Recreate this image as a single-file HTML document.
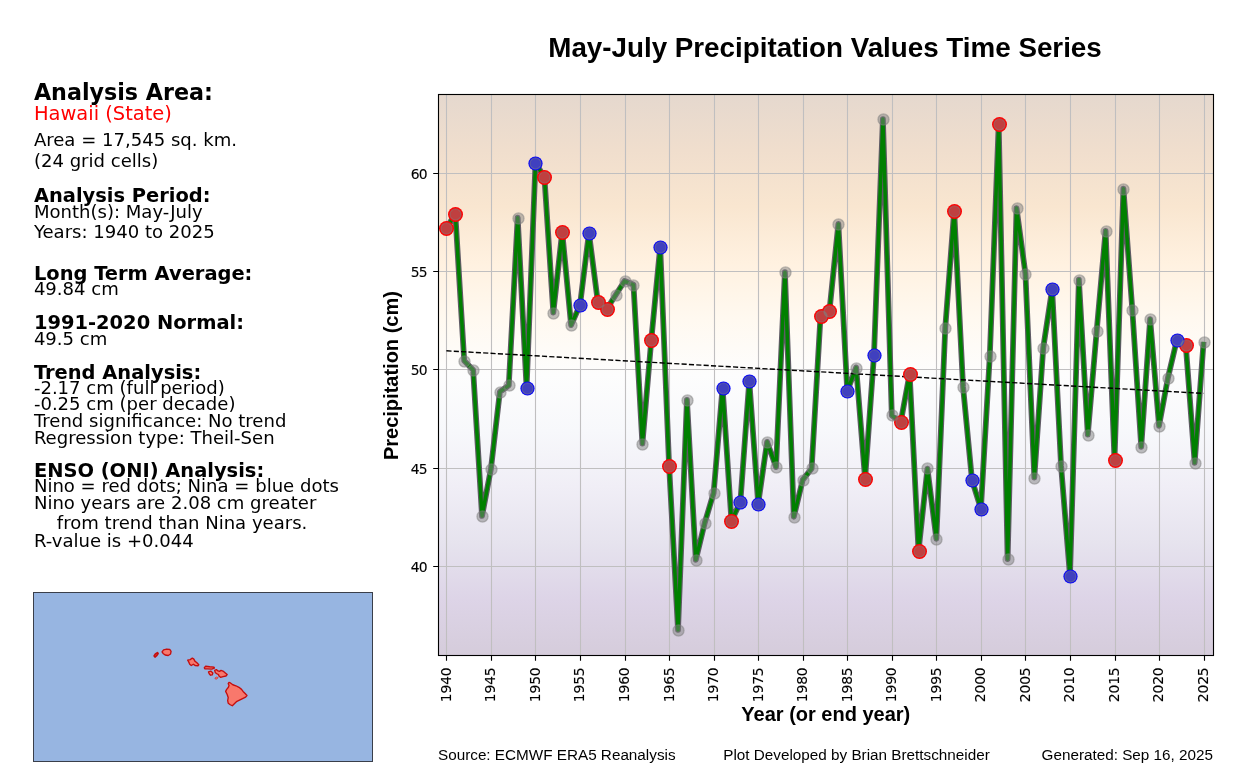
<!DOCTYPE html><html><head><meta charset="utf-8"><title>May-July Precipitation Values Time Series</title>
<style>html,body{margin:0;padding:0;background:#fff;overflow:hidden}svg{display:block}.dj{font-family:"DejaVu Sans","Liberation Sans",sans-serif}.djb{font-family:"DejaVu Sans","Liberation Sans",sans-serif;font-weight:bold}.ar{font-family:"Liberation Sans",Arial,sans-serif}.arb{font-family:"Liberation Sans",Arial,sans-serif;font-weight:bold}text{fill:#000}</style></head><body>
<svg width="1250" height="780" viewBox="0 0 1250 780">
<defs><linearGradient id="bg" x1="0" y1="0" x2="0" y2="1"><stop offset="0%" stop-color="#e5d8ce"/><stop offset="10%" stop-color="#f0decd"/><stop offset="20%" stop-color="#f9e6d0"/><stop offset="30%" stop-color="#fff1e0"/><stop offset="40%" stop-color="#fff9f0"/><stop offset="50%" stop-color="#fdfdfd"/><stop offset="60%" stop-color="#f7f8fb"/><stop offset="70%" stop-color="#f0eef6"/><stop offset="80%" stop-color="#e6e3ee"/><stop offset="90%" stop-color="#ddd4e7"/><stop offset="100%" stop-color="#d5ccdb"/></linearGradient>
<clipPath id="ax"><rect x="438.5" y="94.5" width="775" height="561"/></clipPath></defs>
<rect width="1250" height="780" fill="#fff"/>
<text class="arb" x="825" y="57" font-size="27.78" text-anchor="middle">May-July Precipitation Values Time Series</text>
<text class="djb" x="33.9" y="99.6" font-size="22.22" style="fill:#000">Analysis Area:</text>
<text class="dj" x="33.9" y="119.8" font-size="19.44" style="fill:#f00">Hawaii (State)</text>
<text class="dj" x="33.9" y="146" font-size="18.06" style="fill:#000">Area = 17,545 sq. km.</text>
<text class="dj" x="33.9" y="167.1" font-size="18.06" style="fill:#000">(24 grid cells)</text>
<text class="djb" x="33.9" y="202.15" font-size="19.44" style="fill:#000">Analysis Period:</text>
<text class="dj" x="33.9" y="217.9" font-size="18.06" style="fill:#000">Month(s): May-July</text>
<text class="dj" x="33.9" y="238.3" font-size="18.06" style="fill:#000">Years: 1940 to 2025</text>
<text class="djb" x="33.9" y="280" font-size="19.44" style="fill:#000">Long Term Average:</text>
<text class="dj" x="33.9" y="295.2" font-size="18.06" style="fill:#000">49.84 cm</text>
<text class="djb" x="33.9" y="328.6" font-size="19.44" style="fill:#000">1991-2020 Normal:</text>
<text class="dj" x="33.9" y="345.4" font-size="18.06" style="fill:#000">49.5 cm</text>
<text class="djb" x="33.9" y="379.4" font-size="19.44" style="fill:#000">Trend Analysis:</text>
<text class="dj" x="33.9" y="394.1" font-size="18.06" style="fill:#000">-2.17 cm (full period)</text>
<text class="dj" x="33.9" y="410.2" font-size="18.06" style="fill:#000">-0.25 cm (per decade)</text>
<text class="dj" x="33.9" y="427" font-size="18.06" style="fill:#000">Trend significance: No trend</text>
<text class="dj" x="33.9" y="443.5" font-size="18.06" style="fill:#000">Regression type: Theil-Sen</text>
<text class="djb" x="33.9" y="477.4" font-size="19.44" style="fill:#000">ENSO (ONI) Analysis:</text>
<text class="dj" x="33.9" y="492.1" font-size="18.06" style="fill:#000">Nino = red dots; Nina = blue dots</text>
<text class="dj" x="33.9" y="509.3" font-size="18.06" style="fill:#000">Nino years are 2.08 cm greater</text>
<text class="dj" x="33.9" y="528.5" font-size="18.06" style="fill:#000">    from trend than Nina years.</text>
<text class="dj" x="33.9" y="547.3" font-size="18.06" style="fill:#000">R-value is +0.044</text>
<g id="map"><rect x="33.5" y="592.5" width="339" height="169" fill="#97b5e1" stroke="#3a3f4a" stroke-width="1"/>
<path d="M229.03 682.38 L230.77 683.21 L232.82 684.74 L235.90 685.77 L238.97 687.31 L241.54 689.36 L243.08 691.41 L245.13 693.46 L246.97 695.51 L245.64 697.05 L242.56 698.59 L239.49 700.13 L236.41 701.67 L234.36 703.72 L232.31 705.77 L230.26 704.74 L228.21 703.21 L227.69 700.64 L228.21 697.56 L227.18 694.49 L225.64 691.41 L226.67 689.36 L228.41 687.31 L229.03 685.26 L228.21 683.72Z" fill="#f8786c" stroke="#c40e0e" stroke-width="1.35" stroke-linejoin="round"/>
<path d="M214.67 670.38 L216.41 669.56 L217.95 670.90 L219.49 671.41 L221.03 670.38 L223.59 671.41 L225.64 673.15 L227.18 674.49 L225.95 676.03 L223.08 676.54 L220.51 677.36 L218.97 676.03 L218.46 674.49 L216.92 673.77 L215.38 672.74Z" fill="#f8786c" stroke="#c40e0e" stroke-width="1.35" stroke-linejoin="round"/>
<path d="M187.69 660.13 L190.26 659.62 L192.31 658.08 L193.85 659.10 L194.87 661.15 L196.92 662.69 L198.77 664.74 L197.95 665.77 L195.38 665.56 L193.33 664.23 L191.28 665.46 L189.74 664.23 L188.72 661.87Z" fill="#f8786c" stroke="#c40e0e" stroke-width="1.35" stroke-linejoin="round"/>
<path d="M162.05 651.92 L163.59 649.87 L166.67 649.05 L169.74 649.36 L171.08 651.41 L170.56 653.97 L168.21 655.51 L165.13 655.00 L163.08 653.46Z" fill="#f8786c" stroke="#c40e0e" stroke-width="1.35" stroke-linejoin="round"/>
<path d="M154.05 656.03 L155.38 653.97 L157.44 652.64 L158.15 653.46 L156.92 655.31 L155.18 657.05Z" fill="#f8786c" stroke="#c40e0e" stroke-width="1.6" stroke-linejoin="round"/>
<path d="M204.31 667.62 L205.64 666.28 L209.74 666.79 L214.05 667.10 L214.36 668.03 L211.79 669.05 L207.69 668.85 L204.82 668.85Z" fill="#f8786c" stroke="#c40e0e" stroke-width="1.35" stroke-linejoin="round"/>
<path d="M208.51 671.92 L210.77 671.10 L212.82 672.95 L212.31 674.79 L210.56 675.21 L209.23 673.77Z" fill="#f8786c" stroke="#c40e0e" stroke-width="1.35" stroke-linejoin="round"/>
<path d="M214.87 678.08 L216.41 677.05 L218.15 677.56 L216.92 679.10 L215.38 679.10Z" fill="#f8786c" stroke="#c40e0e" stroke-width="0.5" stroke-linejoin="round"/>
</g>
<rect x="438.5" y="94.5" width="775" height="561" fill="url(#bg)"/>
<path d="M446.50 94.5 V655.5 M491.50 94.5 V655.5 M535.50 94.5 V655.5 M580.50 94.5 V655.5 M625.50 94.5 V655.5 M669.50 94.5 V655.5 M714.50 94.5 V655.5 M758.50 94.5 V655.5 M803.50 94.5 V655.5 M847.50 94.5 V655.5 M892.50 94.5 V655.5 M936.50 94.5 V655.5 M981.50 94.5 V655.5 M1025.50 94.5 V655.5 M1070.50 94.5 V655.5 M1115.50 94.5 V655.5 M1159.50 94.5 V655.5 M1204.50 94.5 V655.5 M438.5 566.50 H1213.5 M438.5 468.50 H1213.5 M438.5 369.50 H1213.5 M438.5 271.50 H1213.5 M438.5 173.50 H1213.5" stroke="#c0bfc0" stroke-width="1.11" fill="none"/>
<g clip-path="url(#ax)">
<polyline points="446.41,228.05 455.32,213.95 464.23,360.85 473.13,370.05 482.04,515.95 490.95,468.75 499.86,391.85 508.77,385.45 517.67,217.75 526.58,387.75 535.49,163.15 544.40,176.95 553.31,312.65 562.21,231.85 571.12,325.15 580.03,304.95 588.94,232.85 597.85,302.15 606.75,309.05 615.66,294.95 624.57,281.05 633.48,284.75 642.39,443.65 651.29,340.05 660.20,246.75 669.11,465.75 678.02,629.85 686.93,399.85 695.83,559.85 704.74,522.85 713.65,492.85 722.56,387.75 731.47,521.05 740.37,501.85 749.28,380.95 758.19,503.65 767.10,441.85 776.01,467.05 784.91,272.15 793.82,516.75 802.73,479.85 811.64,468.55 820.55,315.75 829.45,310.85 838.36,223.95 847.27,391.05 856.18,367.55 865.09,479.05 873.99,354.95 882.90,119.05 891.81,415.45 900.72,422.15 909.63,373.65 918.53,551.05 927.44,468.55 936.35,538.75 945.26,327.75 954.17,210.85 963.07,386.95 971.98,480.05 980.89,508.75 989.80,355.75 998.71,123.95 1007.61,559.05 1016.52,208.05 1025.43,273.65 1034.34,477.55 1043.25,347.75 1052.15,289.05 1061.06,465.75 1069.97,575.75 1078.88,279.55 1087.79,434.65 1096.69,330.85 1105.60,230.85 1114.51,460.05 1123.42,188.75 1132.33,309.85 1141.23,446.75 1150.14,319.05 1159.05,425.75 1167.96,377.75 1176.87,339.85 1185.77,344.95 1194.68,462.85 1203.59,341.85" fill="none" stroke="#5f5b65" stroke-width="5.8" stroke-linejoin="round" stroke-linecap="butt"/>
<polyline points="446.41,228.05 455.32,213.95 464.23,360.85 473.13,370.05 482.04,515.95 490.95,468.75 499.86,391.85 508.77,385.45 517.67,217.75 526.58,387.75 535.49,163.15 544.40,176.95 553.31,312.65 562.21,231.85 571.12,325.15 580.03,304.95 588.94,232.85 597.85,302.15 606.75,309.05 615.66,294.95 624.57,281.05 633.48,284.75 642.39,443.65 651.29,340.05 660.20,246.75 669.11,465.75 678.02,629.85 686.93,399.85 695.83,559.85 704.74,522.85 713.65,492.85 722.56,387.75 731.47,521.05 740.37,501.85 749.28,380.95 758.19,503.65 767.10,441.85 776.01,467.05 784.91,272.15 793.82,516.75 802.73,479.85 811.64,468.55 820.55,315.75 829.45,310.85 838.36,223.95 847.27,391.05 856.18,367.55 865.09,479.05 873.99,354.95 882.90,119.05 891.81,415.45 900.72,422.15 909.63,373.65 918.53,551.05 927.44,468.55 936.35,538.75 945.26,327.75 954.17,210.85 963.07,386.95 971.98,480.05 980.89,508.75 989.80,355.75 998.71,123.95 1007.61,559.05 1016.52,208.05 1025.43,273.65 1034.34,477.55 1043.25,347.75 1052.15,289.05 1061.06,465.75 1069.97,575.75 1078.88,279.55 1087.79,434.65 1096.69,330.85 1105.60,230.85 1114.51,460.05 1123.42,188.75 1132.33,309.85 1141.23,446.75 1150.14,319.05 1159.05,425.75 1167.96,377.75 1176.87,339.85 1185.77,344.95 1194.68,462.85 1203.59,341.85" fill="none" stroke="#008000" stroke-width="3.5" stroke-linejoin="round" stroke-linecap="butt"/>
<path d="M446.41 350.80 L1203.59 393.40" stroke="#000" stroke-width="1.39" stroke-dasharray="5.14 2.22" fill="none"/>
</g>
<circle cx="446.50" cy="228.50" r="7.5" fill="#ff0000"/>
<circle cx="455.50" cy="214.50" r="7.5" fill="#ff0000"/>
<circle cx="544.50" cy="177.50" r="7.5" fill="#ff0000"/>
<circle cx="562.50" cy="232.50" r="7.5" fill="#ff0000"/>
<circle cx="598.50" cy="302.50" r="7.5" fill="#ff0000"/>
<circle cx="607.50" cy="309.50" r="7.5" fill="#ff0000"/>
<circle cx="651.50" cy="340.50" r="7.5" fill="#ff0000"/>
<circle cx="669.50" cy="466.50" r="7.5" fill="#ff0000"/>
<circle cx="731.50" cy="521.50" r="7.5" fill="#ff0000"/>
<circle cx="821.50" cy="316.50" r="7.5" fill="#ff0000"/>
<circle cx="829.50" cy="311.50" r="7.5" fill="#ff0000"/>
<circle cx="865.50" cy="479.50" r="7.5" fill="#ff0000"/>
<circle cx="901.50" cy="422.50" r="7.5" fill="#ff0000"/>
<circle cx="910.50" cy="374.50" r="7.5" fill="#ff0000"/>
<circle cx="919.50" cy="551.50" r="7.5" fill="#ff0000"/>
<circle cx="954.50" cy="211.50" r="7.5" fill="#ff0000"/>
<circle cx="999.50" cy="124.50" r="7.5" fill="#ff0000"/>
<circle cx="1115.50" cy="460.50" r="7.5" fill="#ff0000"/>
<circle cx="1186.50" cy="345.50" r="7.5" fill="#ff0000"/>
<circle cx="527.50" cy="388.50" r="7.1" fill="#0000ff"/>
<circle cx="535.50" cy="163.50" r="7.1" fill="#0000ff"/>
<circle cx="580.50" cy="305.50" r="7.1" fill="#0000ff"/>
<circle cx="589.50" cy="233.50" r="7.1" fill="#0000ff"/>
<circle cx="660.50" cy="247.50" r="7.1" fill="#0000ff"/>
<circle cx="723.50" cy="388.50" r="7.1" fill="#0000ff"/>
<circle cx="740.50" cy="502.50" r="7.1" fill="#0000ff"/>
<circle cx="749.50" cy="381.50" r="7.1" fill="#0000ff"/>
<circle cx="758.50" cy="504.50" r="7.1" fill="#0000ff"/>
<circle cx="847.50" cy="391.50" r="7.1" fill="#0000ff"/>
<circle cx="874.50" cy="355.50" r="7.1" fill="#0000ff"/>
<circle cx="972.50" cy="480.50" r="7.1" fill="#0000ff"/>
<circle cx="981.50" cy="509.50" r="7.1" fill="#0000ff"/>
<circle cx="1052.50" cy="289.50" r="7.1" fill="#0000ff"/>
<circle cx="1070.50" cy="576.50" r="7.1" fill="#0000ff"/>
<circle cx="1177.50" cy="340.50" r="7.1" fill="#0000ff"/>
<g fill="#808080" fill-opacity="0.5" stroke="#808080" stroke-opacity="0.5" stroke-width="1.3">
<circle cx="446.50" cy="228.50" r="5.55"/>
<circle cx="455.50" cy="214.50" r="5.55"/>
<circle cx="464.50" cy="361.50" r="5.55"/>
<circle cx="473.50" cy="370.50" r="5.55"/>
<circle cx="482.50" cy="516.50" r="5.55"/>
<circle cx="491.50" cy="469.50" r="5.55"/>
<circle cx="500.50" cy="392.50" r="5.55"/>
<circle cx="509.50" cy="385.50" r="5.55"/>
<circle cx="518.50" cy="218.50" r="5.55"/>
<circle cx="527.50" cy="388.50" r="5.55"/>
<circle cx="535.50" cy="163.50" r="5.55"/>
<circle cx="544.50" cy="177.50" r="5.55"/>
<circle cx="553.50" cy="313.50" r="5.55"/>
<circle cx="562.50" cy="232.50" r="5.55"/>
<circle cx="571.50" cy="325.50" r="5.55"/>
<circle cx="580.50" cy="305.50" r="5.55"/>
<circle cx="589.50" cy="233.50" r="5.55"/>
<circle cx="598.50" cy="302.50" r="5.55"/>
<circle cx="607.50" cy="309.50" r="5.55"/>
<circle cx="616.50" cy="295.50" r="5.55"/>
<circle cx="625.50" cy="281.50" r="5.55"/>
<circle cx="633.50" cy="285.50" r="5.55"/>
<circle cx="642.50" cy="444.50" r="5.55"/>
<circle cx="651.50" cy="340.50" r="5.55"/>
<circle cx="660.50" cy="247.50" r="5.55"/>
<circle cx="669.50" cy="466.50" r="5.55"/>
<circle cx="678.50" cy="630.50" r="5.55"/>
<circle cx="687.50" cy="400.50" r="5.55"/>
<circle cx="696.50" cy="560.50" r="5.55"/>
<circle cx="705.50" cy="523.50" r="5.55"/>
<circle cx="714.50" cy="493.50" r="5.55"/>
<circle cx="723.50" cy="388.50" r="5.55"/>
<circle cx="731.50" cy="521.50" r="5.55"/>
<circle cx="740.50" cy="502.50" r="5.55"/>
<circle cx="749.50" cy="381.50" r="5.55"/>
<circle cx="758.50" cy="504.50" r="5.55"/>
<circle cx="767.50" cy="442.50" r="5.55"/>
<circle cx="776.50" cy="467.50" r="5.55"/>
<circle cx="785.50" cy="272.50" r="5.55"/>
<circle cx="794.50" cy="517.50" r="5.55"/>
<circle cx="803.50" cy="480.50" r="5.55"/>
<circle cx="812.50" cy="468.50" r="5.55"/>
<circle cx="821.50" cy="316.50" r="5.55"/>
<circle cx="829.50" cy="311.50" r="5.55"/>
<circle cx="838.50" cy="224.50" r="5.55"/>
<circle cx="847.50" cy="391.50" r="5.55"/>
<circle cx="856.50" cy="368.50" r="5.55"/>
<circle cx="865.50" cy="479.50" r="5.55"/>
<circle cx="874.50" cy="355.50" r="5.55"/>
<circle cx="883.50" cy="119.50" r="5.55"/>
<circle cx="892.50" cy="415.50" r="5.55"/>
<circle cx="901.50" cy="422.50" r="5.55"/>
<circle cx="910.50" cy="374.50" r="5.55"/>
<circle cx="919.50" cy="551.50" r="5.55"/>
<circle cx="927.50" cy="468.50" r="5.55"/>
<circle cx="936.50" cy="539.50" r="5.55"/>
<circle cx="945.50" cy="328.50" r="5.55"/>
<circle cx="954.50" cy="211.50" r="5.55"/>
<circle cx="963.50" cy="387.50" r="5.55"/>
<circle cx="972.50" cy="480.50" r="5.55"/>
<circle cx="981.50" cy="509.50" r="5.55"/>
<circle cx="990.50" cy="356.50" r="5.55"/>
<circle cx="999.50" cy="124.50" r="5.55"/>
<circle cx="1008.50" cy="559.50" r="5.55"/>
<circle cx="1017.50" cy="208.50" r="5.55"/>
<circle cx="1025.50" cy="274.50" r="5.55"/>
<circle cx="1034.50" cy="478.50" r="5.55"/>
<circle cx="1043.50" cy="348.50" r="5.55"/>
<circle cx="1052.50" cy="289.50" r="5.55"/>
<circle cx="1061.50" cy="466.50" r="5.55"/>
<circle cx="1070.50" cy="576.50" r="5.55"/>
<circle cx="1079.50" cy="280.50" r="5.55"/>
<circle cx="1088.50" cy="435.50" r="5.55"/>
<circle cx="1097.50" cy="331.50" r="5.55"/>
<circle cx="1106.50" cy="231.50" r="5.55"/>
<circle cx="1115.50" cy="460.50" r="5.55"/>
<circle cx="1123.50" cy="189.50" r="5.55"/>
<circle cx="1132.50" cy="310.50" r="5.55"/>
<circle cx="1141.50" cy="447.50" r="5.55"/>
<circle cx="1150.50" cy="319.50" r="5.55"/>
<circle cx="1159.50" cy="426.50" r="5.55"/>
<circle cx="1168.50" cy="378.50" r="5.55"/>
<circle cx="1177.50" cy="340.50" r="5.55"/>
<circle cx="1186.50" cy="345.50" r="5.55"/>
<circle cx="1195.50" cy="463.50" r="5.55"/>
<circle cx="1204.50" cy="342.50" r="5.55"/>
</g>
<rect x="438.5" y="94.5" width="775" height="561" fill="none" stroke="#000" stroke-width="1.11"/>
<path d="M446.50 655.5 v5.3 M491.50 655.5 v5.3 M535.50 655.5 v5.3 M580.50 655.5 v5.3 M625.50 655.5 v5.3 M669.50 655.5 v5.3 M714.50 655.5 v5.3 M758.50 655.5 v5.3 M803.50 655.5 v5.3 M847.50 655.5 v5.3 M892.50 655.5 v5.3 M936.50 655.5 v5.3 M981.50 655.5 v5.3 M1025.50 655.5 v5.3 M1070.50 655.5 v5.3 M1115.50 655.5 v5.3 M1159.50 655.5 v5.3 M1204.50 655.5 v5.3 M438.5 566.50 h-5.3 M438.5 468.50 h-5.3 M438.5 369.50 h-5.3 M438.5 271.50 h-5.3 M438.5 173.50 h-5.3" stroke="#000" stroke-width="1.11" fill="none"/>
<text class="dj" x="426.9" y="571.70" font-size="13.89" letter-spacing="-0.7" stroke="#000" stroke-width="0.12" text-anchor="end">40</text>
<text class="dj" x="426.9" y="473.70" font-size="13.89" letter-spacing="-0.7" stroke="#000" stroke-width="0.12" text-anchor="end">45</text>
<text class="dj" x="426.9" y="374.70" font-size="13.89" letter-spacing="-0.7" stroke="#000" stroke-width="0.12" text-anchor="end">50</text>
<text class="dj" x="426.9" y="276.70" font-size="13.89" letter-spacing="-0.7" stroke="#000" stroke-width="0.12" text-anchor="end">55</text>
<text class="dj" x="426.9" y="178.70" font-size="13.89" letter-spacing="-0.7" stroke="#000" stroke-width="0.12" text-anchor="end">60</text>
<text class="dj" font-size="13.89" letter-spacing="-0.1" text-anchor="end" stroke="#000" stroke-width="0.12" transform="translate(450.81,667.4) rotate(-90)">1940</text>
<text class="dj" font-size="13.89" letter-spacing="-0.1" text-anchor="end" stroke="#000" stroke-width="0.12" transform="translate(495.35,667.4) rotate(-90)">1945</text>
<text class="dj" font-size="13.89" letter-spacing="-0.1" text-anchor="end" stroke="#000" stroke-width="0.12" transform="translate(539.89,667.4) rotate(-90)">1950</text>
<text class="dj" font-size="13.89" letter-spacing="-0.1" text-anchor="end" stroke="#000" stroke-width="0.12" transform="translate(584.43,667.4) rotate(-90)">1955</text>
<text class="dj" font-size="13.89" letter-spacing="-0.1" text-anchor="end" stroke="#000" stroke-width="0.12" transform="translate(628.97,667.4) rotate(-90)">1960</text>
<text class="dj" font-size="13.89" letter-spacing="-0.1" text-anchor="end" stroke="#000" stroke-width="0.12" transform="translate(673.51,667.4) rotate(-90)">1965</text>
<text class="dj" font-size="13.89" letter-spacing="-0.1" text-anchor="end" stroke="#000" stroke-width="0.12" transform="translate(718.05,667.4) rotate(-90)">1970</text>
<text class="dj" font-size="13.89" letter-spacing="-0.1" text-anchor="end" stroke="#000" stroke-width="0.12" transform="translate(762.59,667.4) rotate(-90)">1975</text>
<text class="dj" font-size="13.89" letter-spacing="-0.1" text-anchor="end" stroke="#000" stroke-width="0.12" transform="translate(807.13,667.4) rotate(-90)">1980</text>
<text class="dj" font-size="13.89" letter-spacing="-0.1" text-anchor="end" stroke="#000" stroke-width="0.12" transform="translate(851.67,667.4) rotate(-90)">1985</text>
<text class="dj" font-size="13.89" letter-spacing="-0.1" text-anchor="end" stroke="#000" stroke-width="0.12" transform="translate(896.21,667.4) rotate(-90)">1990</text>
<text class="dj" font-size="13.89" letter-spacing="-0.1" text-anchor="end" stroke="#000" stroke-width="0.12" transform="translate(940.75,667.4) rotate(-90)">1995</text>
<text class="dj" font-size="13.89" letter-spacing="-0.1" text-anchor="end" stroke="#000" stroke-width="0.12" transform="translate(985.29,667.4) rotate(-90)">2000</text>
<text class="dj" font-size="13.89" letter-spacing="-0.1" text-anchor="end" stroke="#000" stroke-width="0.12" transform="translate(1029.83,667.4) rotate(-90)">2005</text>
<text class="dj" font-size="13.89" letter-spacing="-0.1" text-anchor="end" stroke="#000" stroke-width="0.12" transform="translate(1074.37,667.4) rotate(-90)">2010</text>
<text class="dj" font-size="13.89" letter-spacing="-0.1" text-anchor="end" stroke="#000" stroke-width="0.12" transform="translate(1118.91,667.4) rotate(-90)">2015</text>
<text class="dj" font-size="13.89" letter-spacing="-0.1" text-anchor="end" stroke="#000" stroke-width="0.12" transform="translate(1163.45,667.4) rotate(-90)">2020</text>
<text class="dj" font-size="13.89" letter-spacing="-0.1" text-anchor="end" stroke="#000" stroke-width="0.12" transform="translate(1207.99,667.4) rotate(-90)">2025</text>
<text class="arb" x="825.8" y="720.7" font-size="20" text-anchor="middle">Year (or end year)</text>
<text class="arb" font-size="20" text-anchor="middle" transform="translate(398.0,375.6) rotate(-90)">Precipitation (cm)</text>
<text class="ar" x="438" y="759.9" font-size="15.28">Source: ECMWF ERA5 Reanalysis</text>
<text class="ar" x="856.5" y="759.9" font-size="15.28" text-anchor="middle">Plot Developed by Brian Brettschneider</text>
<text class="ar" x="1213" y="759.9" font-size="15.28" text-anchor="end">Generated: Sep 16, 2025</text>
</svg></body></html>
